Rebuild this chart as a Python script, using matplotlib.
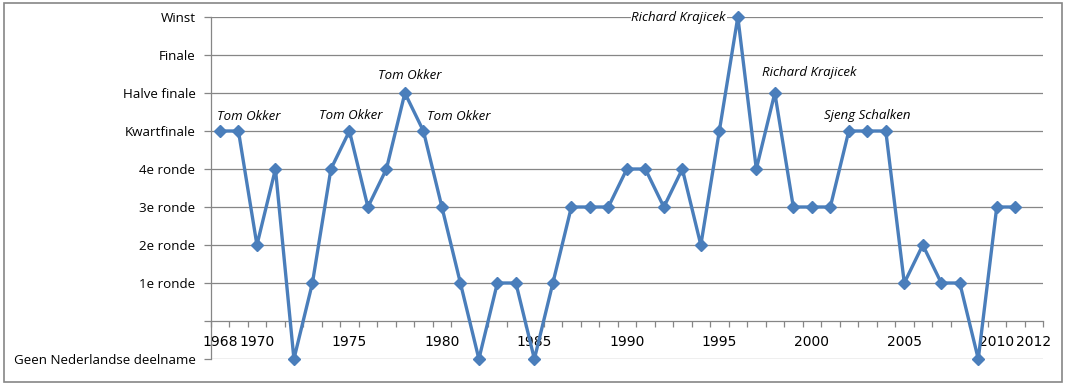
import matplotlib.pyplot as plt
import numpy as np
from matplotlib.patches import Rectangle

# -1 = geen deelname, 0 = lege rij (as), 1 = 1e ronde ... 8 = winst
years = list(range(1968, 2012))
results = [5, 5, 2, 4, -1, 1, 4, 5, 3, 4, 6, 5, 3, 1, -1, 1, 1, -1, 1, 3,
           3, 3, 4, 4, 3, 4, 2, 5, 8, 4, 6, 3, 3, 3, 5, 5, 5, 1, 2, 1,
           1, -1, 3, 3]
level_labels = ["Geen Nederlandse deelname", "", "1e ronde", "2e ronde", "3e ronde",
                "4e ronde", "Kwartfinale", "Halve finale", "Finale", "Winst"]
year_ticks = [1968, 1970, 1975, 1980, 1985, 1990, 1995, 2000, 2005, 2010, 2012]

# (tekst, x, y, uitlijning)
notes = [
    ("Tom Okker", 1969.55, 5.37, "center"),
    ("Tom Okker", 1975.05, 5.42, "center"),
    ("Tom Okker", 1978.25, 6.45, "center"),
    ("Tom Okker", 1980.9, 5.37, "center"),
    ("Richard Krajicek", 1992.8, 8.0, "center"),
    ("Richard Krajicek", 1999.87, 6.55, "center"),
    ("Sjeng Schalken", 2003.0, 5.42, "center"),
]

LINE = "#4a7ebb"
GRID = "#868686"
FONT = "Open Sans"


def main() -> None:
    fig = plt.figure(figsize=(10.68, 3.85), dpi=100)
    ax = fig.add_axes([210.7 / 1068, 1 - 359 / 385, (1043 - 210.7) / 1068, (359 - 17) / 385])

    ax.plot(years, results, color=LINE, lw=2.4, marker="D", ms=6,
            markerfacecolor=LINE, markeredgecolor=LINE, clip_on=False, zorder=5)

    ax.set_xlim(1967.5, 2012.5)
    ax.set_ylim(-1, 8)

    levels = np.arange(-1, 9)
    ax.set_yticks(levels)
    ax.set_yticklabels(level_labels, fontsize=9.6, family=FONT)
    for lv in levels:
        if lv != 0:
            ax.axhline(lv, color=GRID, lw=0.9, zorder=1)

    ax.set_xticks(year_ticks)
    ax.set_xticklabels([str(y) for y in year_ticks], fontsize=7.0, family=FONT)
    ax.set_xticks(np.arange(1967.5, 2013, 1), minor=True)
    ax.tick_params(axis="x", which="major", length=0, pad=10)
    ax.tick_params(axis="x", which="minor", length=4, width=0.9, color=GRID, direction="out")
    ax.tick_params(axis="y", length=5, width=0.9, color=GRID, pad=6)

    for side in ("top", "right"):
        ax.spines[side].set_visible(False)
    ax.spines["bottom"].set_position(("data", 0))
    ax.spines["bottom"].set_color(GRID)
    ax.spines["bottom"].set_linewidth(0.9)
    ax.spines["left"].set_color(GRID)
    ax.spines["left"].set_linewidth(0.9)

    for text, x, y, ha in notes:
        ax.text(x, y, text, ha=ha, va="center", fontsize=9.5, style="italic",
                family=FONT, zorder=6,
                bbox=dict(facecolor="white", edgecolor="none", pad=0.5))

    fig.patches.append(Rectangle((4 / 1068, 3 / 385), 1058 / 1068, 379 / 385,
                                 transform=fig.transFigure, fill=False,
                                 edgecolor=GRID, lw=1.2))

    fig.savefig("out.png", dpi=100)
    plt.close(fig)


if __name__ == "__main__":
    main()
